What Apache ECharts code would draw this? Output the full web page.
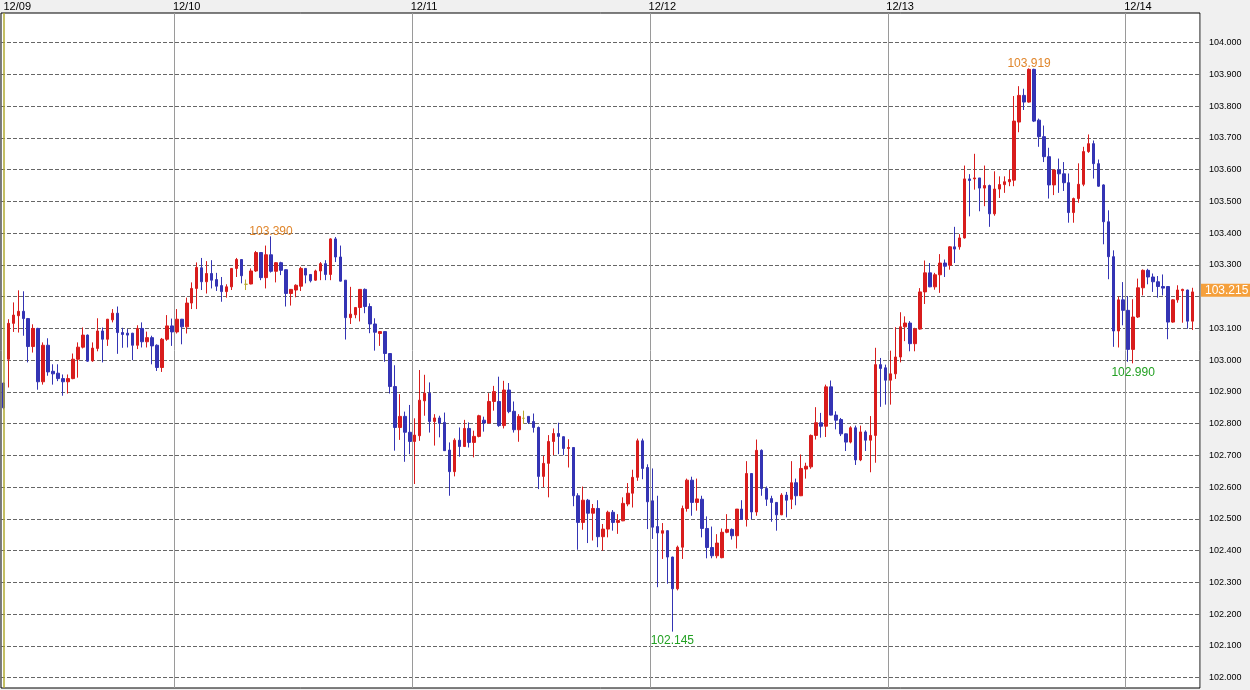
<!DOCTYPE html>
<html><head><meta charset="utf-8">
<script src="https://cdn.jsdelivr.net/npm/echarts@6/dist/echarts.min.js"></script>
<style>html,body{margin:0;padding:0;background:#f0f0f0}#c{width:1250px;height:690px}</style>
</head><body><div id="c"></div>
<script>
const dayLabels = ['12/09','12/10','12/11','12/12','12/13','12/14'];
const dayStart = [0,35,83,131,179,227];
const opens = [102.928,103.003,103.116,103.140,103.154,103.131,103.043,103.100,102.932,103.047,
102.965,102.959,102.942,102.932,102.942,103.003,103.041,103.079,102.998,103.037,
103.092,103.066,103.127,103.148,103.087,103.085,103.085,103.047,103.100,103.058,
103.071,103.047,102.977,103.066,103.108,103.089,103.129,103.105,103.180,103.226,
103.291,103.247,103.273,103.254,103.235,103.216,103.231,103.289,103.317,103.239,
103.240,103.281,103.339,103.260,103.332,103.280,103.307,103.285,103.210,103.221,
103.233,103.289,103.270,103.252,103.281,103.304,103.270,103.382,103.325,103.252,
103.134,103.143,103.166,103.223,103.169,103.114,103.084,103.090,103.021,102.917,
102.788,102.823,102.773,102.744,102.762,102.872,102.896,102.807,102.818,102.804,
102.717,102.649,102.748,102.728,102.785,102.741,102.760,102.811,102.802,102.870,
102.870,102.794,102.906,102.839,102.781,102.817,102.823,102.807,102.788,102.634,
102.675,102.744,102.769,102.759,102.722,102.725,102.573,102.489,102.559,102.518,
102.533,102.444,102.468,102.521,102.489,102.494,102.547,102.581,102.631,102.746,
102.662,102.557,102.476,102.455,102.463,102.380,102.280,102.411,102.533,102.622,
102.552,102.562,102.470,102.410,102.384,102.378,102.458,102.467,102.447,102.531,
102.499,102.643,102.522,102.716,102.596,102.564,102.552,102.513,102.575,102.562,
102.614,102.573,102.657,102.664,102.763,102.803,102.792,102.916,102.827,102.813,
102.768,102.742,102.787,102.686,102.774,102.748,102.763,102.986,102.976,102.937,
102.957,103.010,103.105,103.117,103.052,103.098,103.215,103.275,103.231,103.269,
103.306,103.299,103.357,103.357,103.385,103.571,103.571,103.574,103.542,103.550,
103.461,103.539,103.553,103.562,103.567,103.750,103.834,103.813,103.916,103.756,
103.704,103.641,103.552,103.599,103.587,103.559,103.465,103.509,103.554,103.657,
103.682,103.619,103.552,103.436,103.326,103.092,103.190,103.157,103.034,103.136,
103.228,103.283,103.262,103.247,103.232,103.232,103.120,103.190,103.219,103.221,
103.123];
const closes = [102.850,103.116,103.142,103.154,103.131,103.043,103.100,102.932,103.047,102.963,
102.957,102.942,102.932,102.942,103.003,103.041,103.079,102.997,103.038,103.092,
103.066,103.129,103.148,103.087,103.081,103.079,103.047,103.100,103.058,103.071,
103.045,102.977,103.066,103.108,103.089,103.129,103.105,103.180,103.226,103.292,
103.247,103.273,103.252,103.233,103.216,103.231,103.289,103.317,103.266,103.239,
103.281,103.339,103.260,103.332,103.280,103.307,103.283,103.210,103.223,103.236,
103.289,103.268,103.250,103.281,103.304,103.270,103.382,103.325,103.249,103.134,
103.145,103.166,103.223,103.169,103.114,103.088,103.090,103.021,102.917,102.788,
102.823,102.773,102.744,102.764,102.874,102.896,102.807,102.818,102.801,102.715,
102.649,102.748,102.728,102.785,102.741,102.760,102.825,102.802,102.870,102.901,
102.794,102.906,102.838,102.781,102.823,102.817,102.804,102.788,102.634,102.675,
102.744,102.769,102.760,102.722,102.725,102.573,102.489,102.559,102.518,102.533,
102.444,102.468,102.521,102.489,102.495,102.549,102.581,102.631,102.746,102.659,
102.554,102.474,102.456,102.463,102.380,102.280,102.411,102.533,102.622,102.552,
102.563,102.470,102.410,102.384,102.424,102.458,102.467,102.447,102.531,102.499,
102.643,102.522,102.716,102.596,102.562,102.552,102.513,102.575,102.559,102.614,
102.573,102.659,102.666,102.763,102.803,102.792,102.916,102.827,102.811,102.768,
102.742,102.787,102.686,102.774,102.748,102.763,102.986,102.974,102.937,102.957,
103.010,103.105,103.117,103.052,103.098,103.215,103.275,103.231,103.269,103.306,
103.296,103.357,103.350,103.385,103.571,103.566,103.574,103.542,103.550,103.461,
103.539,103.553,103.562,103.569,103.753,103.834,103.813,103.916,103.753,103.704,
103.641,103.552,103.599,103.587,103.559,103.465,103.509,103.554,103.657,103.682,
103.619,103.548,103.436,103.326,103.092,103.190,103.157,103.034,103.136,103.228,
103.283,103.262,103.247,103.232,103.227,103.120,103.190,103.221,103.223,103.123,
103.215];
const lows = [102.845,102.914,103.089,103.087,103.077,102.993,103.024,102.907,102.923,102.951,
102.923,102.934,102.888,102.895,102.940,102.945,103.037,102.995,102.995,103.028,
102.993,103.045,103.119,103.020,103.039,103.040,103.000,103.035,103.040,103.040,
102.987,102.966,102.963,103.061,103.045,103.084,103.050,103.084,103.161,103.161,
103.221,103.210,103.226,103.218,103.184,103.197,103.221,103.262,103.242,103.221,
103.239,103.278,103.252,103.226,103.276,103.245,103.268,103.169,103.172,103.198,
103.218,103.242,103.245,103.250,103.252,103.252,103.252,103.309,103.248,103.065,
103.114,103.132,103.122,103.148,103.085,103.030,103.045,102.995,102.895,102.715,
102.749,102.680,102.704,102.610,102.746,102.825,102.772,102.731,102.757,102.714,
102.573,102.634,102.696,102.727,102.725,102.694,102.757,102.775,102.800,102.841,
102.790,102.785,102.833,102.772,102.743,102.799,102.799,102.772,102.594,102.600,
102.568,102.701,102.704,102.701,102.662,102.540,102.403,102.466,102.424,102.432,
102.411,102.400,102.442,102.463,102.453,102.493,102.540,102.536,102.620,102.625,
102.468,102.437,102.285,102.374,102.296,102.145,102.275,102.374,102.523,102.510,
102.526,102.442,102.376,102.376,102.376,102.376,102.455,102.435,102.407,102.498,
102.476,102.499,102.510,102.573,102.541,102.491,102.463,102.512,102.505,102.531,
102.543,102.572,102.627,102.658,102.750,102.756,102.758,102.826,102.782,102.761,
102.714,102.738,102.670,102.682,102.714,102.647,102.677,102.853,102.860,102.860,
102.941,102.993,103.060,103.028,103.028,103.096,103.177,103.230,103.222,103.212,
103.262,103.285,103.306,103.348,103.383,103.453,103.537,103.469,103.485,103.420,
103.455,103.511,103.527,103.548,103.548,103.718,103.788,103.811,103.750,103.672,
103.624,103.509,103.520,103.527,103.533,103.433,103.433,103.496,103.548,103.653,
103.572,103.546,103.365,103.255,103.042,103.040,103.110,102.995,102.990,103.133,
103.204,103.239,103.215,103.197,103.204,103.066,103.118,103.181,103.118,103.099,
103.095];
const highs = [102.930,103.129,103.182,103.220,103.217,103.133,103.113,103.102,103.056,103.069,
102.987,102.987,102.955,102.955,103.021,103.056,103.103,103.081,103.056,103.132,
103.103,103.130,103.161,103.169,103.102,103.098,103.086,103.110,103.119,103.090,
103.077,103.050,103.070,103.142,103.131,103.161,103.130,103.197,103.245,103.308,
103.322,103.312,103.315,103.275,103.262,103.239,103.290,103.322,103.318,103.254,
103.289,103.344,103.340,103.361,103.390,103.309,103.310,103.286,103.224,103.239,
103.294,103.290,103.270,103.285,103.309,103.315,103.384,103.388,103.361,103.252,
103.231,103.166,103.224,103.226,103.179,103.132,103.091,103.091,103.022,102.984,
102.893,102.838,102.859,102.817,102.969,102.954,102.930,102.830,102.825,102.835,
102.741,102.754,102.788,102.812,102.804,102.778,102.828,102.822,102.896,102.919,
102.948,102.935,102.928,102.870,102.830,102.841,102.823,102.832,102.791,102.699,
102.764,102.785,102.803,102.760,102.751,102.726,102.581,102.602,102.563,102.547,
102.559,102.484,102.526,102.528,102.515,102.568,102.613,102.655,102.753,102.753,
102.672,102.659,102.573,102.487,102.464,102.381,102.416,102.542,102.627,102.633,
102.627,102.573,102.508,102.476,102.452,102.470,102.515,102.470,102.531,102.559,
102.682,102.643,102.750,102.719,102.602,102.573,102.553,102.581,102.585,102.682,
102.627,102.703,102.677,102.766,102.852,102.834,102.923,102.936,102.839,102.818,
102.769,102.792,102.794,102.794,102.779,102.824,103.039,103.007,102.986,103.030,
103.104,103.151,103.138,103.123,103.102,103.227,103.314,103.306,103.275,103.334,
103.317,103.359,103.420,103.397,103.613,103.586,103.650,103.574,103.613,103.553,
103.595,103.579,103.579,103.599,103.832,103.863,103.855,103.919,103.918,103.761,
103.739,103.669,103.600,103.635,103.624,103.588,103.512,103.620,103.672,103.711,
103.692,103.632,103.554,103.472,103.346,103.200,103.246,103.202,103.192,103.257,
103.286,103.288,103.273,103.265,103.270,103.232,103.192,103.236,103.225,103.222,
103.228];
const yTicks = [102.0,102.1,102.2,102.3,102.4,102.5,102.6,102.7,102.8,102.9,103.0,
103.1,103.2,103.3,103.4,103.5,103.6,103.7,103.8,103.9,104.0];
const highMarks = [54, 207];
const lowMarks = [135, 228];

const n = opens.length;
const categories = [];
for (let d = 0; d < dayStart.length; d++) {
  const s = dayStart[d], e = d + 1 < dayStart.length ? dayStart[d + 1] : n;
  for (let k = s; k < e; k++) {
    const mins = d === 0 ? 24 * 60 - (e - k) * 30 : (k - s) * 30;
    const hh = String(Math.floor(mins / 60)).padStart(2, '0');
    const mm = String(mins % 60).padStart(2, '0');
    categories.push(dayLabels[d] + ' ' + hh + ':' + mm);
  }
}
categories.push('');
const dayStartSet = new Set(dayStart);
const data = opens.map((o, i) => [o, closes[i], lows[i], highs[i]]);
const lastPrice = closes[n - 1];

const marks = [];
highMarks.forEach(i => marks.push({coord: [i, highs[i]], value: highs[i],
  label: {position: 'top', distance: -2, color: '#e0862c'}}));
lowMarks.forEach(i => marks.push({coord: [i, lows[i]], value: lows[i],
  label: {position: 'bottom', distance: 3, color: '#22a022'}}));

const chart = echarts.init(document.getElementById('c'), null, {renderer: 'canvas'});
chart.setOption({
  backgroundColor: '#f0f0f0',
  animation: false,
  grid: {left: 1, top: 13, width: 1199, height: 675, show: true,
    backgroundColor: '#ffffff', borderColor: '#000000', borderWidth: 1},
  xAxis: {
    type: 'category', data: categories, position: 'top', boundaryGap: true,
    axisLine: {show: false}, axisTick: {show: false},
    axisLabel: {interval: (i) => dayStartSet.has(i),
      formatter: (v, i) => (i === 0 ? '{f|' : '{d|') + v.slice(0, 5) + '}',
      align: 'left', margin: 1, color: '#000', fontSize: 11, fontFamily: 'Liberation Sans',
      rich: {
        f: {fontSize: 11, fontFamily: 'Liberation Sans', color: '#000', padding: [0, 0, 0, 0]},
        d: {fontSize: 11, fontFamily: 'Liberation Sans', color: '#000', padding: [0, 0, 0, -4]}
      }},
    splitLine: {show: true, interval: (i) => dayStartSet.has(i) && i > 0,
      lineStyle: {color: '#9a9a9a', width: 1}}
  },
  yAxis: {
    type: 'value', position: 'right', min: 101.9675, max: 104.0935,
    axisLine: {show: false},
    axisTick: {show: false, customValues: yTicks},
    axisLabel: {customValues: yTicks,
      formatter: v => (Math.abs(v - lastPrice) < 0.03 ? '' : v.toFixed(3)), margin: 9,
      fontSize: 9, color: '#000', fontFamily: 'Liberation Sans'},
    splitLine: {show: true, lineStyle: {type: [4, 2], color: '#666666', width: 1}}
  },
  series: [{
    type: 'candlestick', data: data, barWidth: 3,
    itemStyle: {color: '#d81c1c', color0: '#3434b4', borderColor: '#d81c1c',
      borderColor0: '#3434b4', borderColorDoji: '#b8a830', borderWidth: 1},
    markPoint: {symbol: 'circle', symbolSize: 1, itemStyle: {color: 'rgba(0,0,0,0)'},
      label: {show: true, fontSize: 12, fontFamily: 'Liberation Sans',
        formatter: p => Number(p.value).toFixed(3)},
      data: marks},
    markLine: {symbol: 'none', silent: true, animation: false,
      data: [
        {yAxis: lastPrice, lineStyle: {color: 'rgba(0,0,0,0)', width: 1},
          label: {show: true, position: 'end', distance: 1, formatter: () => lastPrice.toFixed(3),
            backgroundColor: '#f5a03c', color: '#ffffff', padding: [0, 3, 0, 4], lineHeight: 13,
            fontSize: 12, fontFamily: 'Liberation Sans', opacity: 1}},
        {xAxis: 0, lineStyle: {color: '#b0aa30', width: 1.5, type: 'solid'}, label: {show: false}}
      ]}
  }]
});
</script></body></html>
